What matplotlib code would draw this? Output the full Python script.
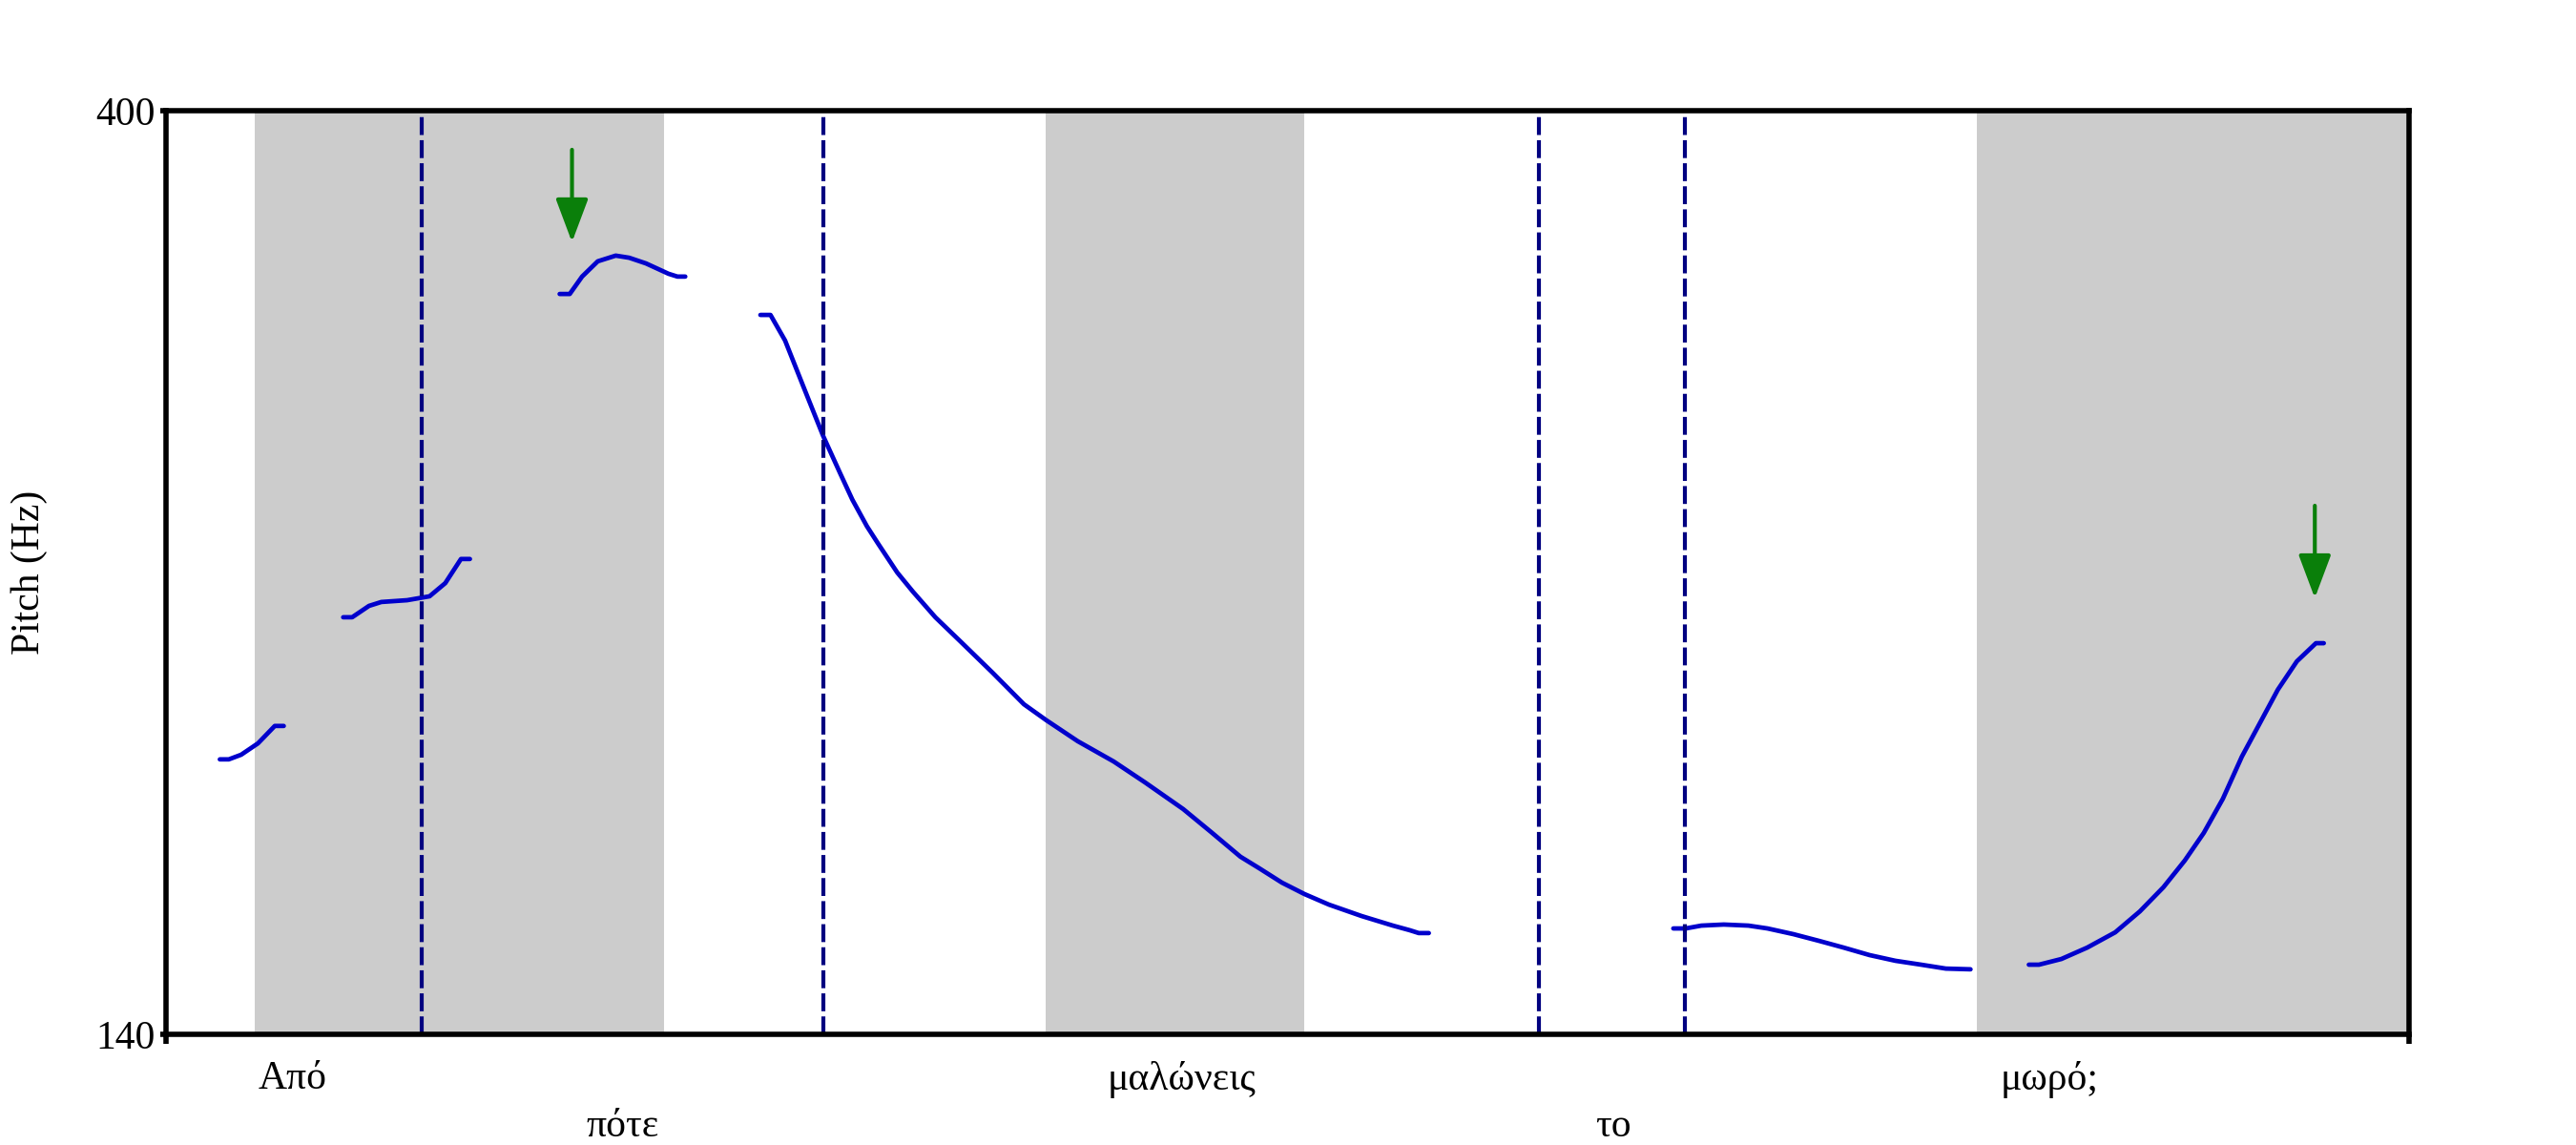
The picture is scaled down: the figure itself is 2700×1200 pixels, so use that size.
import numpy as np
import matplotlib.pyplot as plt

plt.rcParams['font.family'] = ['Liberation Serif', 'DejaVu Serif']

# pitch track segments (time in s, F0 in Hz)
seg1_t = [0.048, 0.056, 0.067, 0.082, 0.097, 0.105]
seg1_hz = [217.4, 217.4, 218.7, 221.9, 226.8, 226.8]

seg2_t = [0.158, 0.166, 0.181, 0.192, 0.215, 0.226, 0.235, 0.249, 0.263, 0.271]
seg2_hz = [257.4, 257.4, 260.6, 261.7, 262.2, 262.8, 263.3, 267.0, 273.8, 273.8]

seg3_t = [0.351, 0.360, 0.371, 0.385, 0.401, 0.413, 0.428, 0.448, 0.456, 0.463]
seg3_hz = [348.4, 348.4, 353.3, 357.6, 359.2, 358.6, 357.0, 354.1, 353.3, 353.3]

seg4_t = [0.530, 0.539, 0.552, 0.569, 0.586, 0.601, 0.612, 0.625, 0.635, 0.652, 0.666,
          0.686, 0.709, 0.737, 0.765, 0.785, 0.813, 0.845, 0.873, 0.907, 0.932,
          0.958, 0.975, 0.995, 1.015, 1.037, 1.066, 1.094, 1.109, 1.117, 1.126]
seg4_hz = [342.5, 342.5, 335.3, 321.8, 308.4, 298.0, 290.5, 283.0, 278.1, 270.0, 264.6,
           257.4, 250.4, 241.8, 232.9, 228.4, 222.5, 216.8, 210.9, 203.4, 196.9,
           190.0, 186.7, 182.7, 179.5, 176.5, 173.3, 170.6, 169.3, 168.5, 168.5]

seg5_t = [1.344, 1.355, 1.369, 1.389, 1.411, 1.428, 1.451, 1.474, 1.496, 1.519,
          1.542, 1.565, 1.587, 1.609]
seg5_hz = [169.8, 169.8, 170.6, 170.9, 170.6, 169.8, 168.2, 166.3, 164.4, 162.3,
           160.7, 159.6, 158.5, 158.3]

seg6_t = [1.661, 1.670, 1.690, 1.713, 1.738, 1.760, 1.781, 1.800, 1.817, 1.834,
          1.851, 1.866, 1.883, 1.900, 1.917, 1.924]
seg6_hz = [159.6, 159.6, 161.2, 164.4, 168.7, 174.6, 181.4, 188.9, 196.7, 206.3,
           218.2, 227.0, 237.0, 245.0, 250.1, 250.1]

segments = [(seg1_t, seg1_hz), (seg2_t, seg2_hz), (seg3_t, seg3_hz),
            (seg4_t, seg4_hz), (seg5_t, seg5_hz), (seg6_t, seg6_hz)]

# shaded (stressed) intervals
band_start = [0.079, 0.784, 1.615]
band_end = [0.444, 1.015, 2.0]

# word boundaries (dashed)
boundaries = [0.228, 0.586, 1.224, 1.354]

# word labels
words = ['Από', 'πότε', 'μαλώνεις', 'το', 'μωρό;']
word_t = [0.113, 0.407, 0.906, 1.290, 1.679]
word_row = [0, 1, 0, 1, 0]

# arrows marking the peaks
arrow_t = [0.362, 1.916]
arrow_top = [389.0, 288.8]
arrow_tip = [363.0, 262.8]

t_end = 2.0
f_min, f_max = 140, 400

fig = plt.figure(figsize=(27, 12), dpi=100)
ax = fig.add_axes([0.06444, 0.09667, 0.87074, 0.80667])

for s, e in zip(band_start, band_end):
    ax.axvspan(s, e, color='#cccccc', lw=0, zorder=0)

for t, hz in segments:
    ax.plot(t, hz, color='#0000cc', lw=3.4, solid_capstyle='round',
            solid_joinstyle='round', zorder=2)

for b in boundaries:
    ax.axvline(b, color='#000080', lw=3.0, linestyle=(0, (4.5, 1.3)), zorder=3)

for x, y0, y1 in zip(arrow_t, arrow_top, arrow_tip):
    ax.annotate('', xy=(x, y1), xytext=(x, y0),
                arrowprops=dict(arrowstyle='-|>,head_width=1.05,head_length=2.8',
                                color='#0a7f0a', lw=3.0, shrinkA=0, shrinkB=0),
                zorder=4)

ax.set_xlim(0, t_end)
ax.set_ylim(f_min, f_max)
ax.set_xticks([0, t_end])
ax.set_xticklabels([])
ax.set_yticks([f_min, f_max])
ax.set_yticklabels([str(f_min), str(f_max)])
ax.tick_params(axis='y', direction='out', length=4, width=4, pad=4, labelsize=30)
ax.tick_params(axis='x', direction='out', length=7, width=4)
for sp in ax.spines.values():
    sp.set_linewidth(4)
    sp.set_zorder(5)

row_y = [-0.0486, -0.1002]
for w, x, r in zip(words, word_t, word_row):
    ax.text(x, row_y[r], w, transform=ax.get_xaxis_transform(),
            ha='center', va='center', fontsize=30)

fig.text(31 / 2700, 0.5, 'Pitch (Hz)', rotation=90, ha='center', va='center', fontsize=30)

fig.savefig('out.png', dpi=100)
